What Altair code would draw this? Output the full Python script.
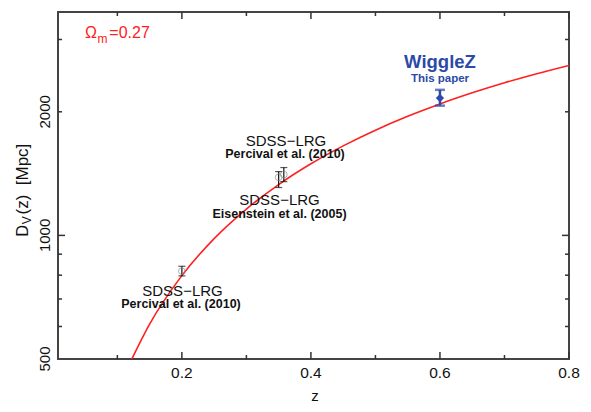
import altair as alt
import pandas as pd

# model curve, Omega_m = 0.27
curve_z = [0.12, 0.15, 0.2, 0.25, 0.3, 0.35, 0.4, 0.45, 0.5, 0.55, 0.6, 0.65, 0.7, 0.75, 0.8]
curve_dv = [491, 608, 798, 982, 1159, 1330, 1494, 1652, 1804, 1950, 2090, 2224, 2353, 2476, 2594]

# SDSS-LRG points
sdss_z = [0.2, 0.35, 0.358]
sdss_dv = [818, 1385, 1407]
sdss_lo = [797, 1308, 1352]
sdss_hi = [841, 1430, 1463]

# WiggleZ point
wz_z = [0.6]
wz_dv = [2160]
wz_lo = [2070]
wz_hi = [2262]

x_labels = [0.2, 0.4, 0.6, 0.8]
x_minor = [0.1, 0.3, 0.5, 0.7]
y_labels = [500, 1000, 2000]
y_major = [1000]
y_minor = [600, 700, 800, 900, 2000, 3000]

W, H = 511, 347
FONT = "Liberation Sans"
RED = "#ff2020"
BLUE = "#2c4aa6"
INK = "#333333"

xs = alt.Scale(domain=[0.008, 0.8], nice=False, zero=False)
ys = alt.Scale(type="log", domain=[500, 3500], nice=False)

one = pd.DataFrame({"a": [0]})


def text(label, x, y, size, weight="normal", color="#111111", align="left", angle=0):
    return alt.Chart(one).mark_text(
        text=label, font=FONT, fontSize=size, fontWeight=weight, color=color,
        align=align, baseline="alphabetic", angle=angle
    ).encode(x=alt.value(x), y=alt.value(y))


def xticks(vals, length):
    src = pd.DataFrame({"z": vals})
    bottom = alt.Chart(src).mark_rule(color=INK, strokeWidth=1.5).encode(
        x=alt.X("z:Q", scale=xs, axis=None), y=alt.value(H), y2=alt.value(H - length))
    top = alt.Chart(src).mark_rule(color=INK, strokeWidth=1.5).encode(
        x=alt.X("z:Q", scale=xs, axis=None), y=alt.value(0), y2=alt.value(length))
    return [bottom, top]


def yticks(vals, length):
    src = pd.DataFrame({"d": vals})
    left = alt.Chart(src).mark_rule(color=INK, strokeWidth=1.5).encode(
        y=alt.Y("d:Q", scale=ys, axis=None), x=alt.value(0), x2=alt.value(length))
    right = alt.Chart(src).mark_rule(color=INK, strokeWidth=1.5).encode(
        y=alt.Y("d:Q", scale=ys, axis=None), x=alt.value(W), x2=alt.value(W - length))
    return [left, right]


# tick labels, placed through the scales
xlab = alt.Chart(pd.DataFrame({"z": x_labels})).mark_text(
    font=FONT, fontSize=15.5, color="#111111", align="center", baseline="alphabetic"
).encode(
    x=alt.X("z:Q", scale=xs, axis=None), y=alt.value(H + 19),
    text=alt.Text("z:Q", format=".1f"))
ylab = alt.Chart(pd.DataFrame({"d": y_labels})).mark_text(
    font=FONT, fontSize=15, color="#111111", align="center", baseline="alphabetic", angle=270
).encode(
    y=alt.Y("d:Q", scale=ys, axis=None), x=alt.value(-8),
    text=alt.Text("d:Q", format="d"))

curve = alt.Chart(pd.DataFrame({"z": curve_z, "dv": curve_dv})).mark_line(
    color=RED, strokeWidth=1.6, interpolate="monotone", clip=True
).encode(
    x=alt.X("z:Q", scale=xs, axis=None),
    y=alt.Y("dv:Q", scale=ys, axis=None),
)

sdss = pd.DataFrame({"z": sdss_z, "dv": sdss_dv, "lo": sdss_lo, "hi": sdss_hi})
sdss_bar = alt.Chart(sdss).mark_rule(color="#111111", strokeWidth=1.2).encode(
    x=alt.X("z:Q", scale=xs, axis=None),
    y=alt.Y("lo:Q", scale=ys, axis=None), y2="hi:Q")
sdss_cap_lo = alt.Chart(sdss).mark_tick(color="#111111", orient="horizontal", size=7, thickness=1.2).encode(
    x=alt.X("z:Q", scale=xs, axis=None), y=alt.Y("lo:Q", scale=ys, axis=None))
sdss_cap_hi = alt.Chart(sdss).mark_tick(color="#111111", orient="horizontal", size=7, thickness=1.2).encode(
    x=alt.X("z:Q", scale=xs, axis=None), y=alt.Y("hi:Q", scale=ys, axis=None))
sdss_pt = alt.Chart(sdss).mark_point(shape="circle", filled=False, color="#8a8a8a", size=45, strokeWidth=1).encode(
    x=alt.X("z:Q", scale=xs, axis=None), y=alt.Y("dv:Q", scale=ys, axis=None))

wz = pd.DataFrame({"z": wz_z, "dv": wz_dv, "lo": wz_lo, "hi": wz_hi})
wz_bar = alt.Chart(wz).mark_rule(color=BLUE, strokeWidth=2.5).encode(
    x=alt.X("z:Q", scale=xs, axis=None),
    y=alt.Y("lo:Q", scale=ys, axis=None), y2="hi:Q")
wz_cap_lo = alt.Chart(wz).mark_tick(color=BLUE, orient="horizontal", size=10, thickness=2.5).encode(
    x=alt.X("z:Q", scale=xs, axis=None), y=alt.Y("lo:Q", scale=ys, axis=None))
wz_cap_hi = alt.Chart(wz).mark_tick(color=BLUE, orient="horizontal", size=10, thickness=2.5).encode(
    x=alt.X("z:Q", scale=xs, axis=None), y=alt.Y("hi:Q", scale=ys, axis=None))
wz_pt = alt.Chart(wz).mark_point(shape="diamond", filled=True, color=BLUE, opacity=1, size=70).encode(
    x=alt.X("z:Q", scale=xs, axis=None), y=alt.Y("dv:Q", scale=ys, axis=None))

labels = [
    text("Ω", 27, 25.7, 16, color=RED),
    text("m", 39.5, 31.3, 12, color=RED),
    text("=0.27", 51.3, 25.7, 16, color=RED),
    text("WiggleZ", 382, 56.3, 18.5, weight="bold", color=BLUE, align="center"),
    text("This paper", 382, 69.7, 11.5, weight="bold", color=BLUE, align="center"),
    text("SDSS−LRG", 228, 133.7, 15, align="center"),
    text("Percival et al. (2010)", 227, 146.3, 12.5, weight="bold", align="center"),
    text("SDSS−LRG", 221.5, 193, 15, align="center"),
    text("Eisenstein et al. (2005)", 221.5, 205.7, 12.5, weight="bold", align="center"),
    text("SDSS−LRG", 124.5, 284, 15, align="center"),
    text("Percival et al. (2010)", 123, 296.3, 12.5, weight="bold", align="center"),
    text("z", 257, 389, 15, align="center"),
    text("D", -29.7, 224.7, 16.5, angle=270),
    text("V", -27.3, 212.3, 12, angle=270),
    text("(z)\u00a0\u00a0[Mpc]", -29.7, 202.5, 17, angle=270),
]

layers = (
    xticks(x_labels, 7) + xticks(x_minor, 4) + yticks(y_major, 7) + yticks(y_minor, 4)
    + [xlab, ylab, curve, sdss_bar, sdss_cap_lo, sdss_cap_hi, sdss_pt,
       wz_bar, wz_cap_lo, wz_cap_hi, wz_pt]
    + labels
)

chart = alt.layer(*layers).properties(
    width=W, height=H,
    autosize=alt.AutoSizeParams(type="none"),
    padding={"left": 50, "top": 4, "right": 14, "bottom": 45},
).configure_view(
    stroke="#444444", strokeWidth=2
)

chart.save("out.html", embed_options={"renderer": "svg", "actions": False})
